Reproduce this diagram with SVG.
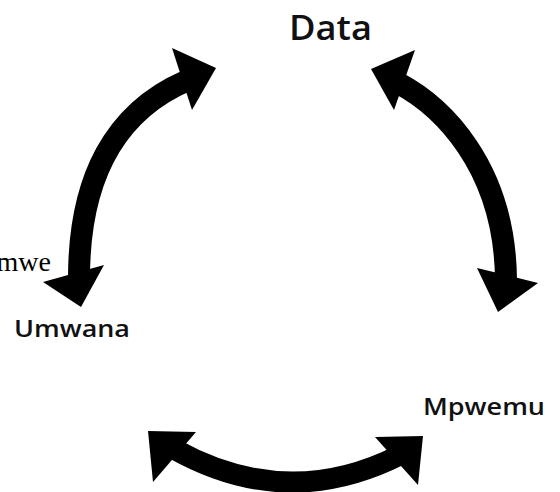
<svg xmlns="http://www.w3.org/2000/svg" width="560" height="492" viewBox="0 0 560 492">
<style>
.shaft{fill:none;stroke:#000;stroke-width:22;}
.head{fill:#000;}
.lbl{font-family:"Open Sans","Noto Sans",sans-serif;font-weight:600;fill:#111;}
.ser{font-family:"Liberation Serif","Times New Roman",serif;fill:#000;}
</style>
<rect width="560" height="492" fill="#fff"/>
<g id="connectors">
  <g id="arrow-left">
    <path class="shaft" d="M 79,278 C 79,178 115,112 186,81"/>
    <polygon class="head" points="172,48 216,68 192,110"/>
    <polygon class="head" points="43,282 104,265 81,307"/>
  </g>
  <g id="arrow-right">
    <path class="shaft" d="M 398,83 C 440,105 505,165 506,280"/>
    <polygon class="head" points="371,69 415,50 394,110"/>
    <polygon class="head" points="477,268 538,283 498,312"/>
  </g>
  <g id="arrow-bottom">
    <path class="shaft" style="stroke-width:21" d="M 174,449 Q 287,512 400,455"/>
    <polygon class="head" points="148,431 196,432 153,482"/>
    <polygon class="head" points="375,437 423,436 418,485"/>
  </g>
</g>
<g id="node-data"><text class="lbl" x="289" y="40" font-size="35" textLength="83" lengthAdjust="spacingAndGlyphs">Data</text></g>
<g id="node-umwana"><text class="lbl" x="14" y="337" font-size="24" textLength="116" lengthAdjust="spacingAndGlyphs">Umwana</text></g>
<g id="node-mpwemu"><text class="lbl" x="423" y="415" font-size="24" textLength="122" lengthAdjust="spacingAndGlyphs">Mpwemu</text></g>
<g id="node-mwe"><text class="ser" x="51" y="271" font-size="28" text-anchor="end">mwe</text></g>
</svg>
